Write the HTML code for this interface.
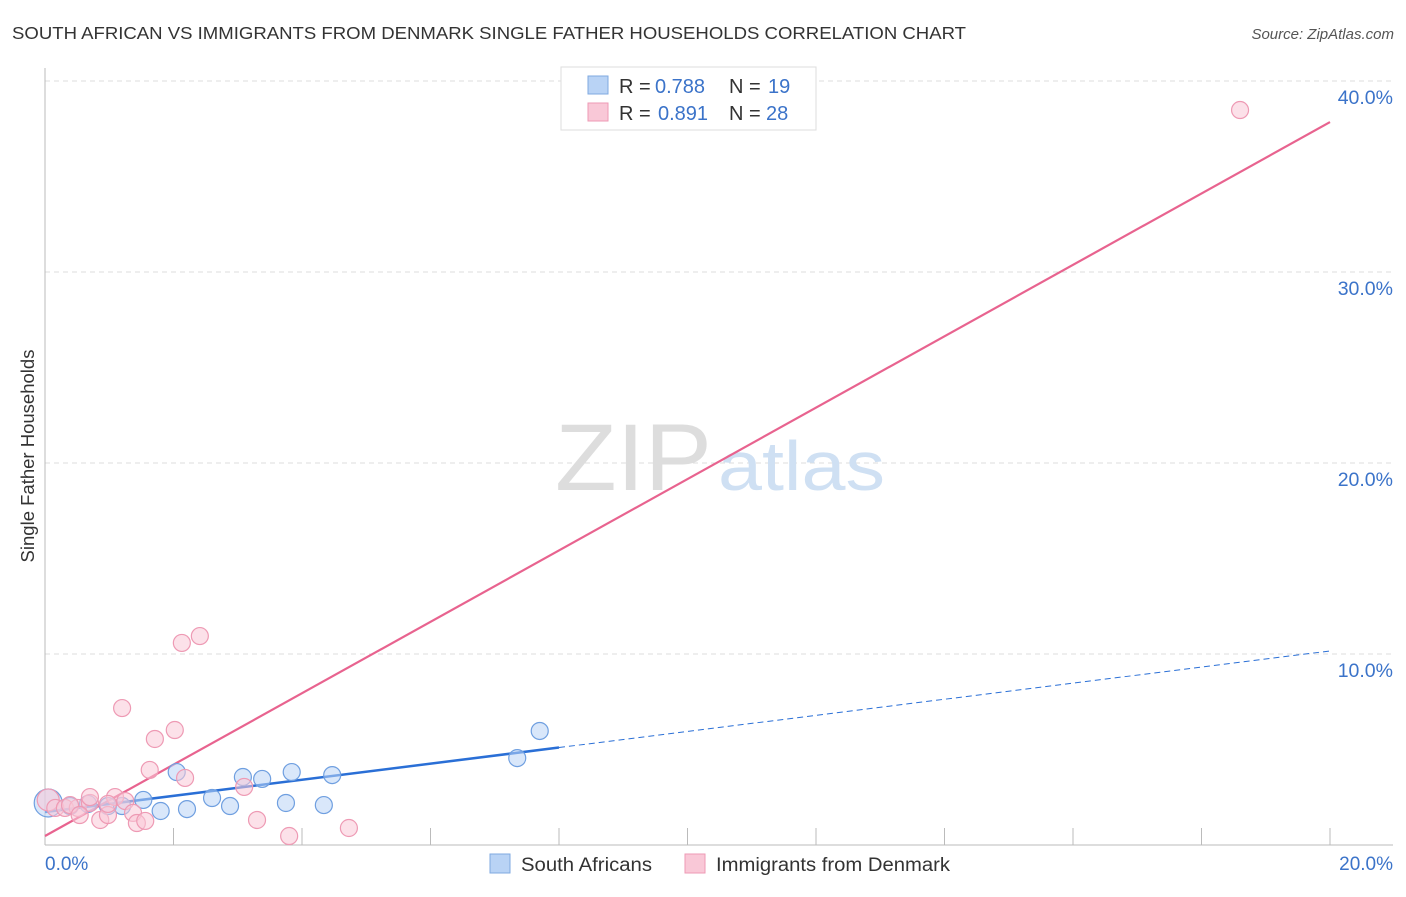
<!DOCTYPE html>
<html><head><meta charset="utf-8"><style>
body{margin:0;background:#fff;font-family:"Liberation Sans",sans-serif;}
svg text{font-family:"Liberation Sans",sans-serif;}
</style></head><body>
<svg width="1406" height="892" xmlns="http://www.w3.org/2000/svg">
<text x="12" y="39" font-size="17.5" fill="#333" textLength="954" lengthAdjust="spacingAndGlyphs">SOUTH AFRICAN VS IMMIGRANTS FROM DENMARK SINGLE FATHER HOUSEHOLDS CORRELATION CHART</text>
<text x="1394" y="39" font-size="15" fill="#555" font-style="italic" text-anchor="end">Source: ZipAtlas.com</text>
<g id="grid"></g>
<text x="555" y="490" font-size="95" fill="#ddd" textLength="157" lengthAdjust="spacingAndGlyphs" font-family="Liberation Serif">ZIP</text>
<text x="718" y="490" font-size="70" fill="#cfe0f3" textLength="167" lengthAdjust="spacingAndGlyphs">atlas</text>
<g id="lines"></g>
<g id="pts"></g>
<text x="34" y="456" font-size="18.5" fill="#333" text-anchor="middle" transform="rotate(-90 34 456)">Single Father Households</text>
<text x="45" y="870" font-size="19" fill="#3b73c9">0.0%</text>
<text x="1393" y="870" font-size="19" fill="#3b73c9" text-anchor="end">20.0%</text>
<g>
<rect x="561" y="67" width="255" height="63" fill="#fff" stroke="#ddd"/>
<rect x="588" y="76" width="20" height="18" fill="#b9d3f5" stroke="#7fa9e0"/>
<rect x="588" y="103" width="20" height="18" fill="#f9c8d7" stroke="#ee9ab4"/>
<text x="619" y="93" font-size="20" fill="#333">R = <tspan x="655" fill="#3b73c9">0.788</tspan></text>
<text x="729" y="93" font-size="20" fill="#333">N = <tspan x="768" fill="#3b73c9">19</tspan></text>
<text x="619" y="120" font-size="20" fill="#333">R = <tspan x="658" fill="#3b73c9">0.891</tspan></text>
<text x="729" y="120" font-size="20" fill="#333">N = <tspan x="766" fill="#3b73c9">28</tspan></text>
</g>
<g>
<rect x="490" y="854" width="20" height="19" fill="#b9d3f5" stroke="#7fa9e0"/>
<text x="521" y="871" font-size="19" fill="#333" textLength="131" lengthAdjust="spacingAndGlyphs">South Africans</text>
<rect x="685" y="854" width="20" height="19" fill="#f9c8d7" stroke="#ee9ab4"/>
<text x="716" y="871" font-size="19" fill="#333" textLength="234" lengthAdjust="spacingAndGlyphs">Immigrants from Denmark</text>
</g>
</svg>
<script>
const yTicks=[10,20,30,40];
const yTickLabels=["10.0%","20.0%","30.0%","40.0%"];
const blueX=[0.05,0.39,0.67,0.98,1.2,1.53,1.8,2.05,2.21,2.6,2.88,3.08,3.38,3.75,3.84,4.34,4.47,7.35,7.7];
const blueY=[2.2,2.04,2.15,2.04,2.04,2.36,1.78,3.82,1.88,2.46,2.04,3.56,3.46,2.2,3.82,2.09,3.66,4.55,5.97];
const pinkX=[0.05,0.16,0.31,0.51,0.7,0.86,0.98,1.09,1.25,1.37,1.43,1.56,1.63,1.71,2.02,2.13,2.18,2.41,1.2,0.7,3.1,3.3,3.8,4.73,18.6,0.39,0.98,0.54];
const pinkY=[2.36,1.94,1.94,1.94,2.2,1.31,1.57,2.51,2.3,1.68,1.15,1.26,3.93,5.55,6.02,10.58,3.51,10.94,7.17,2.51,3.04,1.31,0.47,0.89,38.48,2.09,2.15,1.57];
const blueLine=[1.73,10.16];
const blueSolidEnd=8.0;
const pinkLine=[0.47,37.85];
const NS="http://www.w3.org/2000/svg";
const X=v=>45+v*64.25, Y=v=>845-v*19.1;
function mk(t,a,p){const e=document.createElementNS(NS,t);for(const k in a)e.setAttribute(k,a[k]);p.appendChild(e);return e;}
const grid=document.getElementById('grid');
yTicks.forEach((t,i)=>{
 const l=mk('line',{x1:45,x2:1393,y1:Y(t),y2:Y(t),stroke:'#ddd','stroke-dasharray':'5,4'},grid);
 
 
 const tx=mk('text',{x:1393,y:Y(t)+23,'font-size':19.5,fill:'#3b73c9','text-anchor':'end'},grid);
 tx.textContent=yTickLabels[i];
 
 
});
mk('line',{x1:45,x2:45,y1:68,y2:845,stroke:'#bbb'},grid);
mk('line',{x1:45,x2:1393,y1:845,y2:845,stroke:'#bbb'},grid);
for(let i=1;i<=10;i++){const t=mk('line',{x1:X(i*2),x2:X(i*2),y1:828,y2:845,stroke:'#bbb'},grid);
 
 }
const pts=document.getElementById('pts');
function dot(x,y,r,f,s,name){const c=mk('circle',{cx:X(x),cy:Y(y),r:r,fill:f,'fill-opacity':0.55,stroke:s,'stroke-width':1.2},pts);
 
 }
blueX.forEach((x,i)=>dot(x,blueY[i],i==0?14:8.5,'#b9d3f5','#6f9fe0','south-africans-point'));
pinkX.forEach((x,i)=>dot(x,pinkY[i],i==0?11:8.5,'#f9c8d7','#ee9ab4','denmark-point'));
const lines=document.getElementById('lines');
const bl=v=>blueLine[0]+(blueLine[1]-blueLine[0])*v/20;
const b1=mk('line',{x1:X(0),y1:Y(bl(0)),x2:X(blueSolidEnd),y2:Y(bl(blueSolidEnd)),stroke:'#2a6fd6','stroke-width':2.5},lines);


const b2=mk('line',{x1:X(blueSolidEnd),y1:Y(bl(blueSolidEnd)),x2:X(20),y2:Y(bl(20)),stroke:'#2a6fd6','stroke-width':1,'stroke-dasharray':'6,4'},lines);


const p1=mk('line',{x1:X(0),y1:Y(pinkLine[0]),x2:X(20),y2:Y(pinkLine[1]),stroke:'#e8638f','stroke-width':2.2},lines);


</script>
</body></html>
